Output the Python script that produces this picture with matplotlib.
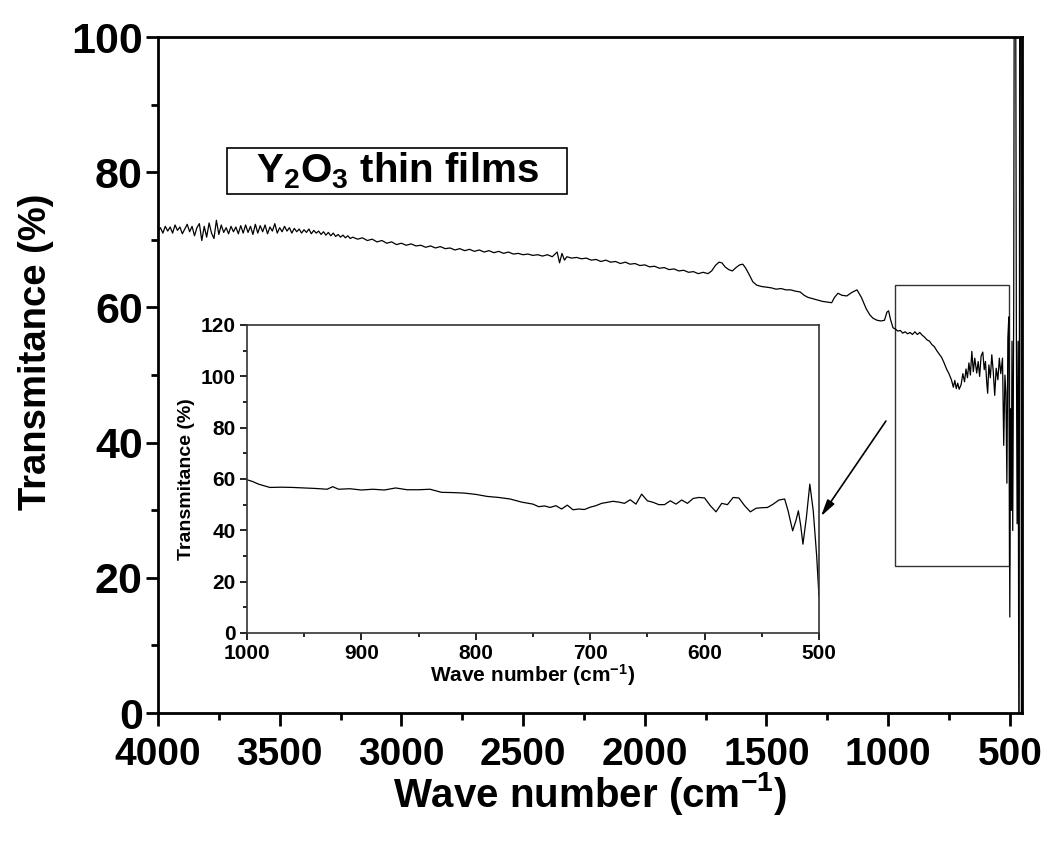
import numpy as np
import matplotlib
matplotlib.use("Agg")
import matplotlib.pyplot as plt
from matplotlib.patches import Rectangle
from matplotlib.ticker import MultipleLocator

# main spectrum, 4000 -> 3200 (noisy part)
wn_a = [4000, 3990, 3980, 3970, 3960, 3950, 3940, 3930, 3920, 3910,
        3900, 3890, 3880, 3870, 3860, 3850, 3840, 3830, 3820, 3810,
        3800, 3790, 3780, 3770, 3760, 3750, 3740, 3730, 3720, 3710,
        3700, 3690, 3680, 3670, 3660, 3650, 3640, 3630, 3620, 3610,
        3600, 3590, 3580, 3570, 3560, 3550, 3540, 3530, 3520, 3510,
        3500, 3490, 3480, 3470, 3460, 3450, 3440, 3430, 3420, 3410,
        3400, 3390, 3380, 3370, 3360, 3350, 3340, 3330, 3320, 3310,
        3300, 3290, 3280, 3270, 3260, 3250, 3240, 3230, 3220, 3210, 3200]
t_a = [71.2, 71.8, 71.0, 72.0, 71.3, 71.9, 71.0, 72.2, 71.4, 71.9,
       70.9, 71.6, 72.3, 71.2, 72.0, 70.6, 71.8, 72.4, 69.9, 72.0,
       70.4, 72.5, 71.0, 70.2, 72.9, 70.8, 72.2, 71.1, 71.8, 70.9,
       72.0, 71.2, 71.9, 70.9, 72.1, 71.0, 72.2, 71.1, 72.0, 70.8,
       72.3, 71.0, 72.1, 71.2, 72.2, 70.9, 71.9, 71.3, 72.4, 71.0,
       71.8, 71.2, 72.0, 71.3, 71.8, 71.0, 71.7, 71.2, 71.6, 71.0,
       71.5, 71.1, 71.6, 70.9, 71.4, 71.0, 71.3, 70.8, 71.2, 70.7,
       71.1, 70.6, 71.0, 70.5, 70.8, 70.4, 70.7, 70.3, 70.6, 70.2, 70.4]

# 3180 -> 1760
wn_b = [3180, 3160, 3140, 3120, 3100, 3080, 3060, 3040, 3020, 3000,
        2980, 2960, 2940, 2920, 2900, 2880, 2860, 2840, 2820, 2800,
        2780, 2760, 2740, 2720, 2700, 2680, 2660, 2640, 2620, 2600,
        2580, 2560, 2540, 2520, 2500, 2480, 2460, 2440, 2420, 2400,
        2380, 2360, 2350, 2340, 2330, 2320, 2300, 2280, 2260, 2240,
        2220, 2200, 2180, 2160, 2140, 2120, 2100, 2080, 2060, 2040,
        2020, 2000, 1980, 1960, 1940, 1920, 1900, 1880, 1860, 1840,
        1820, 1800, 1780, 1760]
t_b = [70.1, 70.3, 69.9, 70.1, 69.7, 69.9, 69.5, 69.7, 69.3, 69.5,
       69.2, 69.4, 69.1, 69.2, 68.9, 69.1, 68.8, 69.0, 68.7, 68.8,
       68.5, 68.7, 68.4, 68.6, 68.3, 68.5, 68.2, 68.4, 68.1, 68.3,
       68.0, 68.2, 67.9, 68.0, 67.8, 67.9, 67.7, 67.8, 67.6, 67.8,
       67.5, 68.2, 66.6, 68.0, 67.0, 67.5, 67.3, 67.4, 67.2, 67.3,
       67.0, 67.1, 66.8, 67.0, 66.7, 66.8, 66.5, 66.7, 66.4, 66.5,
       66.2, 66.3, 66.0, 66.1, 65.8, 65.9, 65.6, 65.7, 65.4, 65.5,
       65.2, 65.3, 65.0, 65.2]

# 1740 -> 450 (bands and the low-wavenumber end)
wn_c = [1740, 1725, 1710, 1695, 1683, 1670, 1655, 1640, 1625, 1610,
        1597, 1585, 1570, 1556, 1540, 1520, 1500, 1480, 1460, 1440,
        1420, 1400, 1380, 1362, 1345, 1330, 1310, 1290, 1270, 1250,
        1232, 1220, 1206, 1190, 1170, 1150, 1128, 1110, 1090, 1075,
        1062, 1045, 1030, 1015, 1005, 998, 990, 980, 970, 960,
        950, 940, 930, 920, 910, 900, 890, 880, 870, 860,
        850, 840, 830, 820, 810, 800, 790, 780, 770, 760,
        750, 740, 732, 726, 720, 714, 708, 700, 693, 686,
        680, 674, 668, 662, 656, 650, 644, 636, 630, 624,
        618, 611, 605, 600, 595, 591, 586, 580, 574, 568,
        562, 556, 549, 543, 537, 530, 525, 520, 516, 512,
        508, 504, 500, 497, 494, 491, 488, 484, 481, 477,
        473, 470, 466, 462, 459, 455, 452, 450]
t_c = [65.0, 65.4, 66.2, 66.7, 66.6, 66.0, 65.6, 65.4, 65.9, 66.3,
       66.4, 65.8, 64.8, 63.8, 63.3, 63.1, 63.0, 62.9, 62.7, 62.8,
       62.6, 62.6, 62.4, 62.3, 61.8, 61.5, 61.3, 61.1, 60.9, 60.8,
       60.7, 61.5, 62.1, 61.8, 61.7, 62.2, 62.6, 61.5, 59.8, 58.9,
       58.4, 58.1, 58.0, 58.1, 59.3, 59.5, 58.2, 57.0, 56.8, 56.5,
       56.6, 56.2, 56.4, 56.1, 56.3, 56.0, 56.4, 56.0, 56.3, 55.9,
       55.6, 55.2, 55.0, 54.5, 54.2, 53.6, 53.1, 52.6, 51.8, 50.9,
       50.2, 49.3, 48.2, 49.2, 48.0, 48.8, 47.9, 48.6, 50.2, 49.0,
       50.9, 49.6, 51.8, 50.0, 53.5, 50.5, 52.5, 50.3, 52.0, 49.8,
       52.8, 53.4, 50.8, 52.0, 49.0, 47.3, 51.5, 49.6, 53.0, 50.5,
       47.0, 51.0, 49.3, 52.5, 50.2, 52.5, 39.6, 50.0, 47.3, 34.0,
       55.5, 58.6, 14.2, 45.0, 30.0, 55.0, 27.0, 60.0, 130.0, 130.0,
       56.0, 28.0, 55.0, -20.0, 130.0, 130.0, -20.0, -20.0]

# inset: 1000 -> 500
inset_wn = [1000, 995, 990, 980, 970, 960, 950, 940, 930, 925,
            920, 910, 900, 890, 880, 870, 860, 850, 840, 830,
            820, 810, 800, 790, 780, 770, 760, 750, 745, 740,
            735, 730, 725, 720, 715, 710, 705, 700, 695, 690,
            680, 675, 670, 665, 660, 655, 650, 645, 640, 635,
            630, 625, 620, 615, 610, 605, 600, 595, 590, 585,
            580, 575, 570, 565, 560, 555, 550, 545, 540, 535,
            530, 527, 523, 520, 518, 516, 514, 511, 508, 505,
            502, 500]
inset_t = [59.7, 59.0, 58.0, 56.7, 56.8, 56.7, 56.5, 56.3, 56.0, 57.0,
           56.0, 56.2, 55.7, 56.0, 55.7, 56.5, 55.8, 55.8, 56.0, 54.8,
           54.7, 54.5, 54.0, 53.2, 52.8, 52.2, 51.0, 50.2, 49.2, 49.5,
           48.9, 49.6, 48.3, 49.8, 48.0, 48.3, 48.1, 49.0, 49.6, 50.5,
           51.3, 51.0, 50.5, 51.9, 50.2, 54.1, 51.5, 50.9, 50.0, 50.0,
           51.5, 50.2, 51.8, 50.5, 52.4, 52.8, 52.6, 49.6, 47.2, 50.5,
           50.0, 52.8, 52.6, 49.6, 47.2, 48.6, 48.8, 48.9, 50.2, 51.8,
           52.2, 47.6, 39.8, 44.0, 47.6, 42.0, 34.6, 45.0, 58.0, 47.6,
           30.0, 14.3]

# box drawn round the zoomed region on the main plot
zoom_x = [970, 505]
zoom_y = [21.7, 63.3]

main_font = ['Liberation Sans', 'DejaVu Sans']

plt.rcParams['font.family'] = main_font
plt.rcParams['font.weight'] = 'bold'
plt.rcParams['mathtext.fontset'] = 'custom'
plt.rcParams['mathtext.rm'] = 'Liberation Sans:bold'
plt.rcParams['mathtext.bf'] = 'Liberation Sans:bold'
plt.rcParams['mathtext.it'] = 'Liberation Sans:bold'

fig = plt.figure(figsize=(10.47, 8.6), dpi=100)
ax = fig.add_axes([0.1509, 0.1709, 0.8252, 0.786])

wn = wn_a + wn_b + wn_c
t = t_a + t_b + t_c
ax.plot(wn, t, '-', color='black', lw=0.9)

ax.set_xlim(4000, 450)
ax.set_ylim(0, 100)
ax.xaxis.set_major_locator(MultipleLocator(500))
ax.xaxis.set_minor_locator(MultipleLocator(250))
ax.yaxis.set_major_locator(MultipleLocator(20))
ax.yaxis.set_minor_locator(MultipleLocator(10))
ax.tick_params(which='major', direction='out', length=9, width=2)
ax.tick_params(which='minor', direction='out', length=5, width=2)
ax.tick_params(axis='x', which='major', pad=8, labelsize=28)
ax.tick_params(axis='y', which='major', pad=2, labelsize=31)
for s in ax.spines.values():
    s.set_linewidth(2)
for lab in ax.get_xticklabels() + ax.get_yticklabels():
    lab.set_fontweight('bold')

ax.set_xlabel('Wave number (cm$^{\\mathbf{-1}}$)', fontsize=29, fontweight='bold')
ax.xaxis.set_label_coords(0.5, -0.085)
ax.set_ylabel('Transmitance (%)', fontsize=27.5, fontweight='bold')
ax.yaxis.set_label_coords(-0.12, 0.534)

# zoom rectangle and arrow
ax.add_patch(Rectangle((zoom_x[0], zoom_y[0]), zoom_x[1] - zoom_x[0], zoom_y[1] - zoom_y[0],
                       fill=False, edgecolor='#333333', lw=1))
ax.annotate('', xy=(1276, 29.1), xytext=(1009, 43.2),
            arrowprops=dict(arrowstyle='-|>,head_length=1.0,head_width=0.25',
                            color='black', lw=1.2, shrinkA=0, shrinkB=0))

# label box
ax.add_patch(Rectangle((0.0799, 0.7678), 0.3935, 0.068, transform=ax.transAxes,
                       fill=False, edgecolor='black', lw=1.2))
ax.text(0.277, 0.802, r'Y$_{\mathbf{2}}$O$_{\mathbf{3}}$ thin films', transform=ax.transAxes,
        ha='center', va='center', fontsize=29, fontweight='bold')

# inset
ins = fig.add_axes([0.2359, 0.2640, 0.5463, 0.3581])
ins.plot(inset_wn, inset_t, '-', color='black', lw=0.9)
ins.set_xlim(1000, 500)
ins.set_ylim(0, 120)
ins.xaxis.set_major_locator(MultipleLocator(100))
ins.xaxis.set_minor_locator(MultipleLocator(50))
ins.yaxis.set_major_locator(MultipleLocator(20))
ins.yaxis.set_minor_locator(MultipleLocator(10))
ins.tick_params(which='major', direction='out', length=5, width=1.2, pad=3, labelsize=15)
ins.tick_params(which='minor', direction='out', length=3, width=1.2)
for s in ins.spines.values():
    s.set_linewidth(1.2)
    s.set_edgecolor('#333333')
for lab in ins.get_xticklabels() + ins.get_yticklabels():
    lab.set_fontweight('bold')
ins.set_xlabel('Wave number (cm$^{\\mathbf{-1}}$)', fontsize=15, fontweight='bold', labelpad=-1)
ins.set_ylabel('Transmitance (%)', fontsize=14, fontweight='bold', labelpad=4)

fig.savefig('out.png', dpi=100)
